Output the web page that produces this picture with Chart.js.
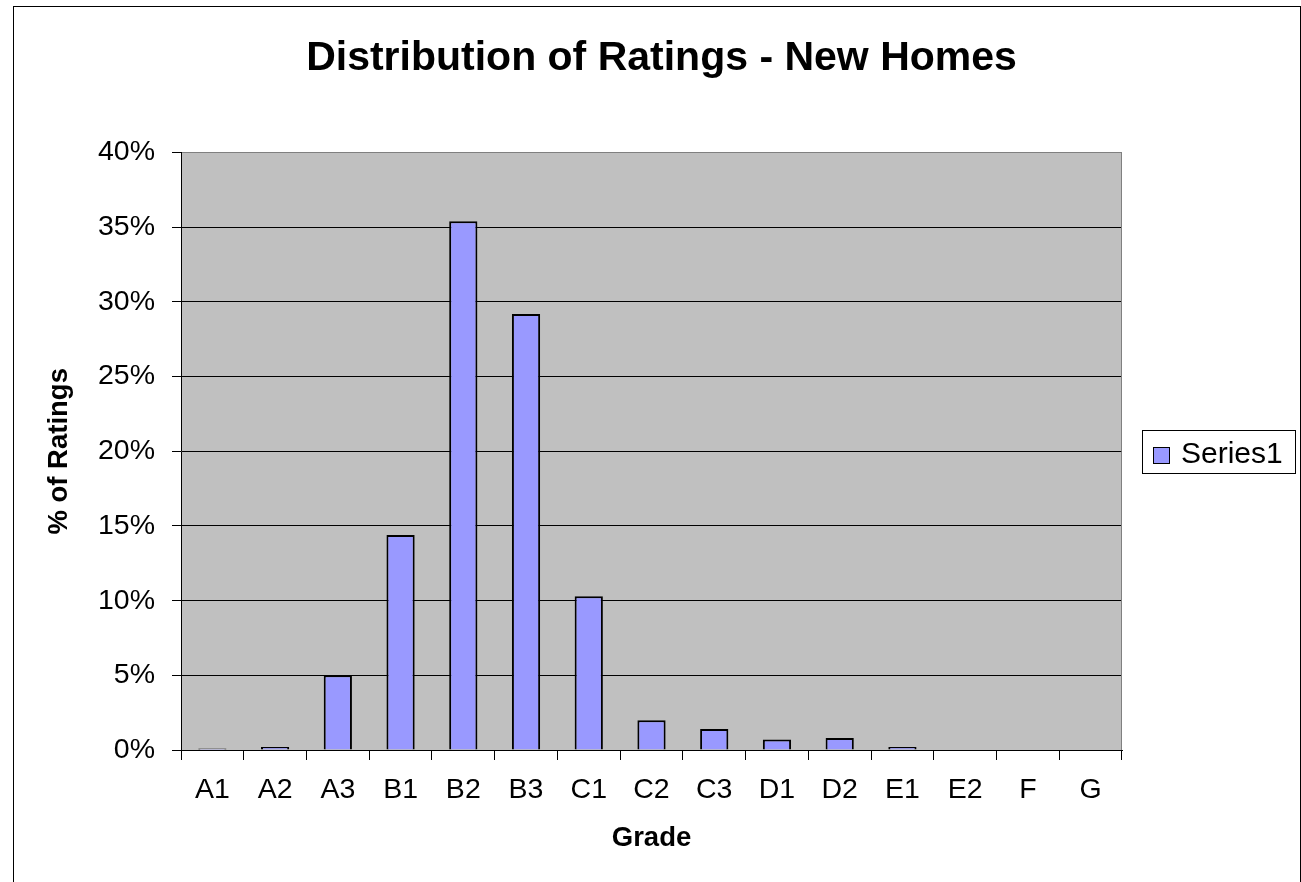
<!DOCTYPE html>
<html>
<head>
<meta charset="utf-8">
<title>Distribution of Ratings - New Homes</title>
<script src="https://cdn.jsdelivr.net/npm/chart.js@4/dist/chart.umd.min.js"></script>
<style>
  body { margin: 0; background: #fff; }
  canvas { display: block; }
</style>
</head>
<body>
<canvas id="chart" width="1301" height="882"></canvas>
<script>
// grades on the x axis and share of ratings (%)
const grades = ["A1", "A2", "A3", "B1", "B2", "B3", "C1", "C2", "C3", "D1", "D2", "E1", "E2", "F", "G"];
const shares = [0.1, 0.2, 5.0, 14.4, 35.4, 29.2, 10.3, 2.0, 1.4, 0.7, 0.8, 0.2, 0, 0, 0];
const yTicks = [0, 5, 10, 15, 20, 25, 30, 35, 40];

const fontFamily = "'Liberation Sans', Arial, sans-serif";

// grey plot area plus the outer chart frame
const plotBackground = {
    id: "plotBackground",
    beforeDraw(chart) {
        const {ctx, chartArea: a} = chart;
        ctx.save();
        ctx.fillStyle = "#c0c0c0";
        ctx.fillRect(a.left, a.top, a.right - a.left, a.bottom - a.top);
        ctx.strokeStyle = "#000";
        ctx.lineWidth = 1;
        ctx.strokeRect(13.5, 6.5, 1287, 900);
        ctx.restore();
    },
    afterDatasetsDraw(chart) {
        const {ctx, chartArea: a} = chart;
        ctx.save();
        ctx.strokeStyle = "#808080";
        ctx.lineWidth = 1;
        ctx.beginPath();
        ctx.moveTo(Math.round(a.right) - 0.5, a.top);
        ctx.lineTo(Math.round(a.right) - 0.5, a.bottom);
        ctx.stroke();
        ctx.restore();
    }
};

// boxed legend on the right, like the spreadsheet one
const boxLegend = {
    id: "boxLegend",
    afterDraw(chart) {
        const ctx = chart.ctx;
        const ds = chart.data.datasets[0];
        ctx.save();
        ctx.strokeStyle = "#000";
        ctx.lineWidth = 1;
        ctx.strokeRect(1142.5, 430.5, 153, 43);
        ctx.fillStyle = ds.backgroundColor;
        ctx.fillRect(1153, 447, 17, 17);
        ctx.strokeRect(1153.5, 447.5, 16, 16);
        ctx.fillStyle = "#000";
        ctx.font = "30px " + fontFamily;
        ctx.textBaseline = "middle";
        ctx.fillText(ds.label, 1181, 455);
        ctx.restore();
    }
};

new Chart(document.getElementById("chart"), {
    type: "bar",
    data: {
        labels: grades,
        datasets: [{
            label: "Series1",
            data: shares,
            backgroundColor: "#9999ff",
            borderColor: "#000",
            borderWidth: 2,
            categoryPercentage: 1,
            barPercentage: 0.45
        }]
    },
    options: {
        responsive: false,
        animation: false,
        layout: {padding: {left: 22, top: 0, right: 0, bottom: 0}},
        plugins: {
            legend: {display: false},
            tooltip: {enabled: false},
            title: {
                display: true,
                text: "Distribution of Ratings - New Homes",
                color: "#000",
                font: {family: fontFamily, size: 41, weight: "bold"},
                padding: {top: 34, bottom: 69.4}
            }
        },
        scales: {
            x: {
                grid: {
                    display: true,
                    drawOnChartArea: false,
                    offset: true,
                    tickLength: 10,
                    color: "#000"
                },
                border: {color: "#000", width: 1},
                ticks: {
                    color: "#000",
                    autoSkip: false,
                    maxRotation: 0,
                    padding: 13,
                    font: {family: fontFamily, size: 28.5}
                },
                title: {
                    display: true,
                    text: "Grade",
                    color: "#000",
                    font: {family: fontFamily, size: 27.5, weight: "bold"},
                    padding: {top: 0, bottom: 27}
                },
                afterFit(scale) { scale.height = 132; }
            },
            y: {
                min: 0,
                max: 40,
                afterBuildTicks(scale) { scale.ticks = yTicks.map(v => ({value: v})); },
                grid: {
                    color: (c) => c.tick && c.tick.value === 40 ? "#808080" : "#000",
                    tickColor: "#000",
                    tickLength: 9
                },
                border: {color: "#000", width: 1},
                ticks: {
                    color: "#000",
                    padding: 17,
                    font: {family: fontFamily, size: 28.5},
                    callback: (v) => v + "%"
                },
                title: {
                    display: true,
                    text: "% of Ratings",
                    color: "#000",
                    font: {family: fontFamily, size: 27.5, weight: "bold"},
                    padding: {top: 21, bottom: 0}
                },
                afterFit(scale) { scale.width = 159; }
            },
            // empty right-hand scale that only reserves room for the legend
            legendSpace: {
                type: "linear",
                position: "right",
                display: true,
                grid: {display: false},
                border: {display: false},
                ticks: {display: false},
                afterFit(scale) { scale.width = 179; }
            }
        }
    },
    plugins: [plotBackground, boxLegend]
});
</script>
</body>
</html>
